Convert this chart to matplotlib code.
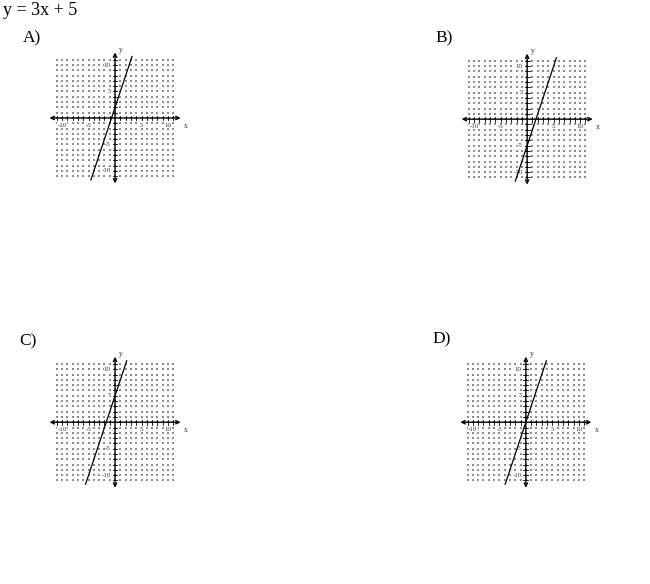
import numpy as np
from matplotlib import pyplot as plt

# Question and the four answer choices (all lines have slope 3)
title = "y = 3x + 5"
choices = ["A)", "B)", "C)", "D)"]
slope = 3
intercepts = [2, -5, 5, 0]
y_ends = [-11.7, 11.6]  # where each drawn line stops

# Grid of the small graphs
grid_vals = np.arange(-11, 12)
tick_labels = [-10, -5, 5, 10]
lim = 13.5

# placement (figure fractions): axes centre and choice label position
centres = [(0.177, 0.798), (0.811, 0.796), (0.177, 0.277), (0.809, 0.277)]
label_pos = [(0.035, 0.935), (0.670, 0.935), (0.030, 0.415), (0.665, 0.418)]

plt.rcParams['font.family'] = ['Liberation Serif', 'DejaVu Serif']

fig = plt.figure(figsize=(6.5, 5.84), dpi=100)
fig.text(0.004, 0.997, title, fontsize=13, ha='left', va='top')

w = 143 / 650
h = 143 / 584
lbl_box = dict(facecolor='white', edgecolor='none', pad=0.2)
for i in range(4):
    cx, cy = centres[i]
    fig.text(label_pos[i][0], label_pos[i][1], choices[i], fontsize=12.5, ha='left', va='center')
    ax = fig.add_axes([cx - w / 2, cy - h / 2, w, h])
    ax.set_xlim(-lim, lim)
    ax.set_ylim(-lim, lim)
    ax.axis('off')

    # dotted grid
    GX, GY = np.meshgrid(grid_vals, grid_vals)
    ax.scatter(GX.ravel(), GY.ravel(), s=1.0, c='#8c8c8c', marker='s', linewidths=0, zorder=1)

    # axes with arrows
    ax.annotate('', xy=(12.9, 0), xytext=(-12.9, 0),
                arrowprops=dict(arrowstyle='<->', lw=1.0, color='black', mutation_scale=6))
    ax.annotate('', xy=(0, 12.9), xytext=(0, -12.9),
                arrowprops=dict(arrowstyle='<->', lw=1.0, color='black', mutation_scale=6))
    for v in grid_vals:
        if v == 0:
            continue
        ax.plot([v, v], [-0.45, 0.45], color='black', lw=0.6)
        ax.plot([-0.45, 0.45], [v, v], color='black', lw=0.6)
    for t in tick_labels:
        ax.text(t, -0.9, str(t), fontsize=5, ha='center', va='top', color='#333333',
                bbox=lbl_box, zorder=3)
        ax.text(-0.8, t, str(t), fontsize=5, ha='right', va='center', color='#333333',
                bbox=lbl_box, zorder=3)
    ax.text(13.4, -0.8, 'x', fontsize=5.5, ha='center', va='top', color='#333333')
    ax.text(0.7, 12.8, 'y', fontsize=5.5, ha='left', va='center', color='#333333')

    # the answer line
    b = intercepts[i]
    xs = [(y_ends[0] - b) / slope, (y_ends[1] - b) / slope]
    ax.plot(xs, [slope * xs[0] + b, slope * xs[1] + b], color='black', lw=0.9, zorder=4)

fig.savefig('out.png', dpi=100)
